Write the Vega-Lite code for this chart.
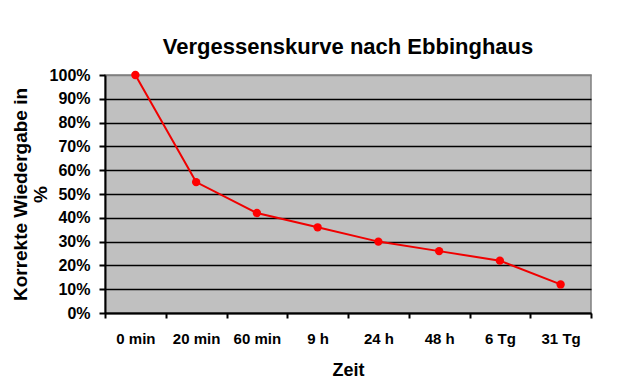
{
  "$schema": "https://vega.github.io/schema/vega-lite/v6.json",
  "width": 486,
  "height": 238,
  "autosize": {"type": "none"},
  "padding": {"left": 105, "top": 75, "right": 35, "bottom": 76},
  "background": "white",
  "title": {
    "text": "Vergessenskurve nach Ebbinghaus",
    "font": "Liberation Sans",
    "fontSize": 22,
    "fontWeight": "bold",
    "color": "#000000",
    "anchor": "middle",
    "baseline": "alphabetic",
    "offset": -9
  },
  "config": {
    "view": {"fill": "#C0C0C0", "stroke": "#808080", "strokeWidth": 1.5}
  },
  "data": {
    "values": [
      {"Zeit": "0 min", "Wert": 1.00},
      {"Zeit": "20 min", "Wert": 0.55},
      {"Zeit": "60 min", "Wert": 0.42},
      {"Zeit": "9 h", "Wert": 0.36},
      {"Zeit": "24 h", "Wert": 0.30},
      {"Zeit": "48 h", "Wert": 0.26},
      {"Zeit": "6 Tg", "Wert": 0.22},
      {"Zeit": "31 Tg", "Wert": 0.12}
    ]
  },
  "mark": {
    "type": "line",
    "color": "#F00000",
    "strokeWidth": 2,
    "point": {"filled": true, "color": "#FF0000", "size": 70, "opacity": 1}
  },
  "encoding": {
    "x": {
      "field": "Zeit",
      "type": "nominal",
      "sort": null,
      "scale": {"type": "band", "paddingInner": 0, "paddingOuter": 0},
      "axis": {
        "title": "Zeit",
        "titleFont": "Liberation Sans",
        "titleFontSize": 18,
        "titleFontWeight": "bold",
        "titleColor": "#000000",
        "titleBaseline": "alphabetic",
        "titleY": 62,
        "labelFont": "Liberation Sans",
        "labelFontSize": 15,
        "labelFontWeight": "bold",
        "labelColor": "#000000",
        "labelAngle": 0,
        "labelBaseline": "alphabetic",
        "labelPadding": 25,
        "tickBand": "extent",
        "ticks": true,
        "tickSize": 5,
        "tickWidth": 2,
        "tickColor": "#000000",
        "domainColor": "#000000",
        "domainWidth": 2,
        "grid": false
      }
    },
    "y": {
      "field": "Wert",
      "type": "quantitative",
      "scale": {"domain": [0, 1], "nice": false},
      "axis": {
        "title": ["Korrekte Wiedergabe in", "%"],
        "titleFont": "Liberation Sans",
        "titleFontSize": 19,
        "titleFontWeight": "bold",
        "titleColor": "#000000",
        "titleAngle": -90,
        "titleAlign": "center",
        "titleBaseline": "alphabetic",
        "titleLineHeight": 20,
        "titleX": -79,
        "titleY": 119,
        "values": [0, 0.1, 0.2, 0.3, 0.4, 0.5, 0.6, 0.7, 0.8, 0.9, 1.0],
        "format": ".0%",
        "labelFont": "Liberation Sans",
        "labelFontSize": 16,
        "labelFontWeight": "bold",
        "labelColor": "#000000",
        "labelPadding": 9,
        "tickSize": 6,
        "tickWidth": 2,
        "tickColor": "#000000",
        "domainColor": "#000000",
        "domainWidth": 2,
        "grid": true,
        "gridColor": {"condition": {"test": "datum.value >= 1", "value": "#808080"}, "value": "#000000"},
        "gridWidth": 1.3,
        "gridOpacity": 1
      }
    }
  }
}
